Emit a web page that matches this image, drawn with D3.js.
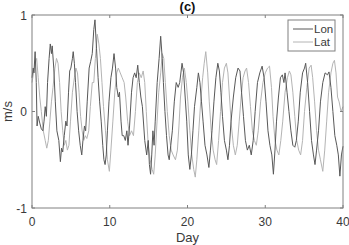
<!DOCTYPE html>
<html>
<head>
<meta charset="utf-8">
<script src="https://cdn.jsdelivr.net/npm/d3@7"></script>
<style>
  body { margin: 0; background: #fff; }
  text { font-family: "Liberation Sans", Arial, sans-serif; }
</style>
</head>
<body>
<svg id="chart" width="349" height="245"></svg>
<script>
"use strict";

// values (day, m/s)
const lonDays = [0,0.15,0.25,0.4,0.55,0.65,0.8,1,1.2,1.4,1.55,1.7,1.85,2,2.2,2.35,2.5,2.6,2.8,3,3.2,3.45,3.65,3.8,3.95,4.15,4.35,4.5,4.7,4.85,5,5.2,5.3,5.45,5.6,5.8,6,6.2,6.4,6.55,6.75,6.9,7.1,7.35,7.55,7.75,7.95,8.1,8.3,8.5,8.7,8.9,9.1,9.25,9.4,9.55,9.7,9.9,10.15,10.35,10.55,10.75,10.9,11.1,11.25,11.45,11.6,11.8,12,12.2,12.35,12.55,12.8,13,13.2,13.4,13.6,13.8,14,14.2,14.5,14.75,14.95,15.1,15.25,15.4,15.55,15.7,15.85,16.1,16.35,16.55,16.75,16.9,17.1,17.3,17.5,17.65,17.85,18.05,18.3,18.55,18.8,19,19.3,19.5,19.7,19.9,20.1,20.3,20.5,20.7,20.9,21.2,21.4,21.6,21.8,22,22.25,22.5,22.75,22.95,23.15,23.4,23.65,23.9,24.1,24.3,24.5,24.75,25,25.2,25.4,25.6,25.9,26.2,26.5,26.75,26.95,27.2,27.45,27.7,27.95,28.2,28.45,28.7,29,29.3,29.6,29.85,30.1,30.35,30.6,30.85,31.05,31.25,31.45,31.7,31.95,32.2,32.4,32.55,32.8,33.05,33.3,33.55,33.8,34,34.25,34.5,34.8,35.05,35.2,35.45,35.7,35.95,36.2,36.4,36.6,36.85,37.1,37.4,37.7,38,38.2,38.45,38.7,38.95,39.2,39.4,39.6,39.8,40]
const lonValues = [0.35,0.45,0.4,0.62,0.3,-0.15,-0.05,-0.12,-0.18,-0.2,-0.1,0.05,-0.05,0.3,0.55,0.7,0.6,0.68,0.45,0.1,-0.2,-0.3,-0.52,-0.38,-0.42,-0.25,-0.1,-0.15,0.2,0.42,0.45,0.55,0.62,0.5,0.3,0,-0.2,-0.35,-0.45,-0.3,-0.15,-0.2,0.1,0.45,0.52,0.6,0.85,0.95,0.65,0.35,0.1,-0.1,-0.35,-0.5,-0.55,-0.45,-0.2,0.1,0.35,0.45,0.6,0.45,0.25,0.15,0.2,-0.1,-0.25,-0.25,-0.3,-0.2,-0.35,-0.15,0.2,0.35,0.4,0.35,0.48,0.3,0.15,0.05,-0.3,-0.45,-0.3,-0.55,-0.65,-0.45,-0.2,-0.35,-0.1,0.3,0.55,0.78,0.55,0.3,0,-0.25,-0.45,-0.5,-0.35,-0.2,0.1,0.3,0.25,0.3,0.5,0.4,0.15,-0.1,-0.45,-0.6,-0.45,-0.2,0.05,0.25,0.4,0.3,0.1,-0.1,-0.35,-0.45,-0.58,-0.4,-0.2,0.1,0.35,0.5,0.42,0.2,-0.05,-0.3,-0.4,-0.5,-0.35,-0.1,0.15,0.35,0.45,0.42,0.2,-0.05,-0.3,-0.4,-0.35,-0.45,-0.3,0,0.3,0.4,0.47,0.35,0.1,-0.2,-0.35,-0.45,-0.65,-0.4,-0.1,0.15,0.35,0.38,0.3,0.4,0.2,0,-0.2,-0.35,-0.37,-0.3,-0.1,0.2,0.4,0.45,0.5,0.3,0,-0.3,-0.45,-0.55,-0.4,-0.2,0.1,0.3,0.4,0.38,0.41,0.25,0,-0.25,-0.35,-0.45,-0.67,-0.45,-0.36]

const latDays = [0,0.2,0.4,0.6,0.8,1,1.2,1.45,1.7,1.9,2.1,2.3,2.5,2.7,2.95,3.15,3.35,3.55,3.75,3.95,4.15,4.35,4.55,4.75,4.95,5.2,5.45,5.65,5.85,6.05,6.25,6.45,6.65,6.85,7.05,7.3,7.5,7.75,7.95,8.15,8.4,8.6,8.8,9,9.2,9.45,9.7,9.95,10.15,10.4,10.65,10.9,11.1,11.35,11.6,11.85,12.05,12.3,12.55,12.8,13.05,13.3,13.55,13.8,14.05,14.3,14.5,14.7,14.95,15.2,15.45,15.65,15.85,16.05,16.3,16.55,16.75,16.95,17.15,17.4,17.65,17.9,18.15,18.45,18.7,18.9,19.1,19.35,19.6,19.85,20.05,20.3,20.55,20.8,21,21.2,21.45,21.7,21.95,22.15,22.35,22.6,22.8,23.05,23.3,23.55,23.75,24,24.25,24.5,24.75,25,25.2,25.4,25.65,25.9,26.15,26.4,26.65,26.9,27.15,27.4,27.6,27.85,28.1,28.35,28.6,28.85,29.1,29.4,29.7,30,30.3,30.55,30.8,31,31.25,31.5,31.75,32,32.25,32.55,32.85,33.1,33.3,33.55,33.8,34.05,34.3,34.55,34.8,35.05,35.35,35.65,35.9,36.1,36.35,36.6,36.85,37.1,37.4,37.65,37.9,38.15,38.45,38.7,38.9,39.1,39.3,39.5,39.75,40]
const latValues = [0.3,0.4,0.5,0.55,0.35,0.15,0,-0.2,-0.3,-0.38,-0.3,-0.1,0.1,0.25,0.45,0.55,0.5,0.3,0,-0.2,-0.35,-0.3,-0.4,-0.35,-0.1,0.2,0.35,0.45,0.4,0.2,-0.05,-0.2,-0.3,-0.25,-0.28,-0.2,0.05,0.3,0.3,0.55,0.8,0.7,0.55,0.3,0.05,-0.2,-0.5,-0.62,-0.4,-0.1,0.2,0.4,0.45,0.4,0.35,0.3,0.15,-0.1,-0.25,-0.2,-0.25,0,0.3,0.4,0.35,0.42,0.3,0,-0.35,-0.5,-0.6,-0.65,-0.45,-0.15,0.2,0.4,0.6,0.55,0.3,0,-0.25,-0.4,-0.45,-0.5,-0.4,-0.15,0.15,0.35,0.45,0.3,0.1,-0.2,-0.45,-0.6,-0.68,-0.5,-0.2,0.1,0.35,0.5,0.62,0.4,0.1,-0.2,-0.4,-0.5,-0.55,-0.3,0,0.3,0.45,0.5,0.4,0.15,-0.15,-0.35,-0.45,-0.35,-0.1,0.15,0.35,0.42,0.45,0.3,0.05,-0.2,-0.3,-0.35,-0.2,0.1,0.3,0.4,0.45,0.47,0.25,-0.05,-0.3,-0.4,-0.45,-0.3,-0.1,0.2,0.35,0.42,0.38,0.2,-0.05,-0.3,-0.4,-0.45,-0.3,0,0.25,0.45,0.48,0.35,0.1,-0.2,-0.4,-0.5,-0.62,-0.4,-0.1,0.2,0.4,0.5,0.53,0.4,0.15,0.1,0,0.05]

const xTicks = [0, 10, 20, 30, 40]
const yTicks = [-1, 0, 1]
const seriesNames = ["Lon", "Lat"]
const seriesColors = ["#585858", "#b4b4b4"]

let svg = d3.select("#chart")
let mLeft = 32, mRight = 343, mTop = 15, mBottom = 208
let axisColor = "#808080", textColor = "#3a3a3a"

let x = d3.scaleLinear().domain([0, 40]).range([mLeft, mRight])
let y = d3.scaleLinear().domain([-1, 1]).range([mBottom, mTop])

// data lines
let line = d3.line().x(d => x(d[0])).y(d => y(d[1]))
let series = [d3.zip(lonDays, lonValues), d3.zip(latDays, latValues)]
// draw Lat under Lon
svg.selectAll("path.series").data([1, 0]).enter()
  .append("path")
  .attr("class", "series")
  .attr("d", i => line(series[i]))
  .attr("fill", "none")
  .attr("stroke", i => seriesColors[i])
  .attr("stroke-width", 1)

// frame
svg.append("rect")
  .attr("x", mLeft).attr("y", mTop)
  .attr("width", mRight - mLeft).attr("height", mBottom - mTop)
  .attr("fill", "none").attr("stroke", axisColor).attr("stroke-width", 1)

// ticks pointing inward, on all four sides
let tickLen = 3
xTicks.forEach(t => {
  svg.append("line").attr("x1", x(t)).attr("x2", x(t)).attr("y1", mBottom).attr("y2", mBottom - tickLen).attr("stroke", axisColor)
  svg.append("line").attr("x1", x(t)).attr("x2", x(t)).attr("y1", mTop).attr("y2", mTop + tickLen).attr("stroke", axisColor)
  svg.append("text").attr("x", x(t)).attr("y", 226).attr("text-anchor", "middle")
    .attr("font-size", 12).attr("fill", textColor).text(t)
})
yTicks.forEach(t => {
  svg.append("line").attr("x1", mLeft).attr("x2", mLeft + tickLen).attr("y1", y(t)).attr("y2", y(t)).attr("stroke", axisColor)
  svg.append("line").attr("x1", mRight).attr("x2", mRight - tickLen).attr("y1", y(t)).attr("y2", y(t)).attr("stroke", axisColor)
  svg.append("text").attr("x", 27).attr("y", y(t) + 4.5).attr("text-anchor", "end")
    .attr("font-size", 12).attr("fill", textColor).text(t)
})

// labels
svg.append("text").attr("x", (mLeft + mRight) / 2).attr("y", 242).attr("text-anchor", "middle")
  .attr("font-size", 13).attr("fill", textColor).text("Day")
svg.append("text").attr("transform", "translate(12," + y(0) + ") rotate(-90)").attr("text-anchor", "middle")
  .attr("font-size", 13).attr("fill", textColor).text("m/s")
svg.append("text").attr("x", (mLeft + mRight) / 2).attr("y", 11).attr("text-anchor", "middle")
  .attr("font-size", 13).attr("font-weight", "bold").attr("fill", "#111").text("(c)")

// legend
let lg = svg.append("g").attr("transform", "translate(288,20)")
lg.append("rect").attr("x", 0).attr("y", 0).attr("width", 47).attr("height", 31)
  .attr("fill", "#fff").attr("stroke", axisColor)
seriesNames.forEach((name, i) => {
  lg.append("line").attr("x1", 5).attr("x2", 25).attr("y1", 9 + i * 13).attr("y2", 9 + i * 13)
    .attr("stroke", seriesColors[i]).attr("stroke-width", 1)
  lg.append("text").attr("x", 26).attr("y", 13 + i * 13).attr("font-size", 11.5)
    .attr("fill", textColor).text(name)
})
</script>
</body>
</html>
